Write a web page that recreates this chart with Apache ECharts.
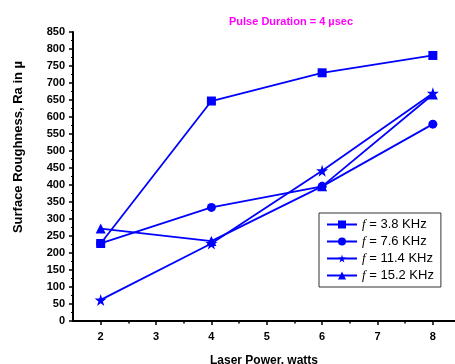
<!DOCTYPE html>
<html>
<head>
<meta charset="utf-8">
<script src="https://cdn.jsdelivr.net/npm/echarts@6/dist/echarts.min.js"></script>
<style>
  html, body { margin: 0; padding: 0; background: #fff; }
  #chart { width: 455px; height: 364px; }
</style>
</head>
<body>
<div id="chart"></div>
<script>
var power = [2, 4, 6, 8];
var ra_38 = [228, 647, 730, 781];
var ra_76 = [228, 334, 396, 579];
var ra_114 = [62, 228, 442, 670];
var ra_152 = [272, 235, 396, 666];
var seriesNames = ['f = 3.8 KHz', 'f = 7.6 KHz', 'f = 11.4 KHz', 'f = 15.2 KHz'];
var xMajor = [2, 3, 4, 5, 6, 7, 8];
var xMinor = [2.5, 3.5, 4.5, 5.5, 6.5, 7.5];

var starPath = 'path://M50,0 L61,35 L98,35 L68,57 L79,91 L50,70 L21,91 L32,57 L2,35 L39,35 Z';
var blue = '#0000ff';

function pairs(xs, ys) {
    return xs.map(function (x, i) { return [x, ys[i]]; });
}

function makeSeries(name, ys, symbol, size) {
    return {
        name: name,
        type: 'line',
        data: pairs(power, ys),
        symbol: symbol,
        symbolSize: size,
        showAllSymbol: true,
        lineStyle: {color: blue, width: 1.8},
        itemStyle: {color: blue},
        emphasis: {disabled: true},
        animation: false
    };
}

var chart = echarts.init(document.getElementById('chart'));

var option = {
    animation: false,
    title: {
        text: 'Pulse Duration = 4 µsec',
        left: 286,
        textAlign: 'center',
        top: 11,
        textStyle: {color: '#ff00ff', fontSize: 11, fontWeight: 'bold', fontFamily: 'Liberation Sans'}
    },
    grid: {left: 73, right: 0, top: 32, bottom: 43, outerBoundsMode: 'none', containLabel: false},
    legend: {
        orient: 'vertical',
        left: 319,
        top: 213,
        padding: [4, 7, 4, 7],
        itemGap: 2,
        itemWidth: 30,
        itemHeight: 10,
        borderColor: '#333',
        borderWidth: 1,
        data: seriesNames,
        formatter: function (name) {
            return '{i|f}' + name.slice(1);
        },
        textStyle: {
            fontSize: 13,
            color: '#000',
            fontFamily: 'Liberation Sans',
            lineHeight: 15,
            rich: {
                i: {fontStyle: 'italic', fontSize: 13, fontFamily: 'Liberation Serif', color: '#000'}
            }
        }
    },
    xAxis: [{
        type: 'value',
        min: 1.5,
        max: 8.4,
        interval: 0.5,
        name: 'Laser Power, watts',
        nameLocation: 'middle',
        nameGap: 34,
        nameTextStyle: {fontSize: 12, fontWeight: 'bold', color: '#000', fontFamily: 'Liberation Sans'},
        splitLine: {show: false},
        axisLine: {lineStyle: {color: '#000', width: 2}},
        axisTick: {customValues: xMajor, length: 4, lineStyle: {color: '#000', width: 1.5}},
        axisLabel: {customValues: xMajor, margin: 10, fontSize: 11, fontWeight: 'bold', color: '#000', fontFamily: 'Liberation Sans'}
    }, {
        type: 'value',
        min: 1.5,
        max: 8.4,
        interval: 0.5,
        position: 'bottom',
        splitLine: {show: false},
        axisLine: {show: false},
        axisTick: {customValues: xMinor, length: 2.5, lineStyle: {color: '#000', width: 1.5}},
        axisLabel: {show: false}
    }],
    yAxis: {
        type: 'value',
        min: 0,
        max: 850,
        interval: 50,
        name: 'Surface Roughness, Ra in µ',
        nameLocation: 'middle',
        nameGap: 48,
        nameTextStyle: {fontSize: 13, fontWeight: 'bold', color: '#000', fontFamily: 'Liberation Sans', padding: [0, 0, 0, 59]},
        splitLine: {show: false},
        axisLine: {show: true, lineStyle: {color: '#000', width: 2}},
        axisTick: {show: true, length: 4, lineStyle: {color: '#000', width: 1.5}},
        minorTick: {show: true, splitNumber: 2, length: 2, lineStyle: {color: '#000', width: 1}},
        axisLabel: {margin: 8, fontSize: 11, fontWeight: 'bold', color: '#000', fontFamily: 'Liberation Sans'}
    },
    series: [
        makeSeries(seriesNames[0], ra_38, 'rect', 9),
        makeSeries(seriesNames[1], ra_76, 'circle', 9),
        makeSeries(seriesNames[2], ra_114, starPath, 12),
        makeSeries(seriesNames[3], ra_152, 'triangle', 10)
    ]
};

chart.setOption(option);
</script>
</body>
</html>
